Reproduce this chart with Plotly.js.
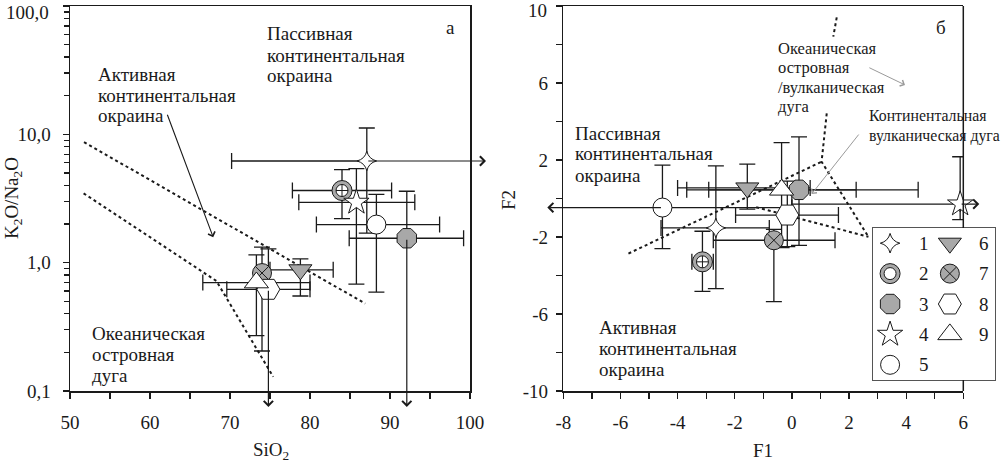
<!DOCTYPE html>
<html><head><meta charset="utf-8">
<script src="https://cdn.plot.ly/plotly-3.0.1.min.js"></script>
<style>html,body{margin:0;padding:0;background:#fff}#chart{width:1003px;height:463px}</style>
</head><body><div id="chart"></div>
<script>
// ---------------- DATA ----------------
const seriesIds = ['1','2','3','4','5','6','7','8','9'];

// Panel а: SiO2 vs K2O/Na2O  (Infinity / -Infinity = open range, drawn as arrow; null = no bar)
const sio2   = [87.1, 84.0, 92.1, 85.8, 88.3, 78.8, 74.0, 74.8, 73.3];
const sio2Lo = [70.2, 77.8, 84.9, 78.6, 80.8, 75.0, null, 69.6, 66.6];
const sio2Hi = [Infinity, 90.2, 99.2, 93.1, 96.2, 82.9, null, 80.0, 80.0];
const kna    = [6.2, 3.65, 1.55, 2.95, 1.98, 0.88, 0.83, 0.62, 0.70];
const knaLo  = [1.7, 2.2, -Infinity, 0.68, 0.59, 0.55, 0.205, -Infinity, 0.27];
const knaHi  = [11.2, 5.3, 3.6, 5.4, 3.4, 1.07, 1.32, 1.28, 1.15];

// Panel а discriminant boundaries
const bndA1x = [51.75, 86.9];        const bndA1y = [8.7, 0.48];
const bndA2x = [51.7, 68.3, 75.4];   const bndA2y = [3.47, 0.72, 0.129];

// Panel б: F1 vs F2
const f1   = [-2.66, -3.13, 0.25, 5.89, -4.53, -1.56, -0.63, -0.16, -0.36];
const f1Lo = [-4.58, -3.5, -2.91, 0.0, -Infinity, -4.0, -2.75, -1.97, -3.68];
const f1Hi = [-0.79, -2.75, 4.42, Infinity, 0.0, 0.64, 1.51, 1.63, 2.25];
const f2   = [-1.53, -3.29, 0.45, -0.29, -0.47, 0.55, -2.17, -0.86, 0.45];
const f2Lo = [-4.68, -4.82, -2.43, -1.1, -2.6, -0.55, -5.36, -2.5, -2.55];
const f2Hi = [1.7, -1.7, 3.2, 2.17, 1.73, 1.79, -1.6, 0.9, 2.9];

// Panel б discriminant boundaries
const bndB1x = [1.57, 1.45];          const bndB1y = [9.41, 8.41];
const bndB2x = [1.22, 1.04, 2.68];    const bndB2y = [4.42, 1.91, -1.99];
const bndB3x = [-5.72, 1.04];         const bndB3y = [-2.86, 1.91];
const bndB4x = [-1.25, 2.68];         const bndB4y = [-0.45, -1.99];

// Tick labels
const xTicksA = [50, 60, 70, 80, 90, 100];
const yTicksA = [0.1, 1, 10, 100];
const yTickTextA = ['0,1', '1,0', '10,0', '100,0'];
const xTicksB = [-8, -6, -4, -2, 0, 2, 4, 6];
const yTicksB = [-10, -6, -2, 2, 6, 10];

// Region labels
const txtPassive = ['Пассивная', 'континентальная', 'окраина'];
const txtActive  = ['Активная', 'континентальная', 'окраина'];
const txtOceanA  = ['Океаническая', 'островная', 'дуга'];
const txtOceanB  = ['Океаническая', 'островная', '/вулканическая', 'дуга'];
const txtContArc = ['Континентальная', 'вулканическая дуга'];

// ---------------- STYLE ----------------
const W = 1003, H = 463;
const FONT = 'Liberation Serif, Times New Roman, serif';
const INK = '#1a1a1a';
const GRAY = '#a8a8a8';
const domA = {x0: 70, x1: 470, y0: 6, y1: 391};
const domB = {x0: 563.3, x1: 963.3, y0: 6, y1: 391};
const domL = {x0: 873, x1: 995, y0: 228, y1: 380};
const px = v => v / W, py = v => 1 - v / H;

const styles = [
  {symbol: 'star-diamond', size: 14, color: '#fff'},
  {symbol: 'circle', size: 20, color: GRAY, inner: 'circle-cross', innerLegend: 'circle', innerSize: 12},
  {symbol: 'octagon', size: 21, color: GRAY},
  {symbol: 'star', size: 19, color: '#fff'},
  {symbol: 'circle', size: 19, color: '#fff'},
  {symbol: 'triangle-down', size: 20, color: GRAY},
  {symbol: 'circle-x', size: 19, color: GRAY},
  {symbol: 'hexagon2', size: 23, color: '#fff'},
  {symbol: 'triangle-up', size: 21, color: '#fff'}
];

const errTraces = [], markTraces = [], annotations = [], shapes = [];

function errArr(val, lo, hi) {
  const plus = [], minus = [];
  val.forEach((v, i) => {
    plus.push(hi[i] === null || !isFinite(hi[i]) ? 0 : hi[i] - v);
    minus.push(lo[i] === null || !isFinite(lo[i]) ? 0 : v - lo[i]);
  });
  return {plus, minus};
}

function panel(xs, xLo, xHi, ys, yLo, yHi, xa, ya) {
  const ex = errArr(xs, xLo, xHi), ey = errArr(ys, yLo, yHi);
  xs.forEach((x, i) => {
    errTraces.push({
      type: 'scatter', mode: 'markers', x: [x], y: [ys[i]], xaxis: xa, yaxis: ya,
      marker: {size: 4, opacity: 0}, showlegend: false, hoverinfo: 'skip',
      error_x: {type: 'data', symmetric: false, array: [ex.plus[i]], arrayminus: [ex.minus[i]],
        color: INK, thickness: 1.3, width: 8},
      error_y: {type: 'data', symmetric: false, array: [ey.plus[i]], arrayminus: [ey.minus[i]],
        color: INK, thickness: 1.3, width: 8}
    });
    const s = styles[i];
    markTraces.push({
      type: 'scatter', mode: 'markers', x: [x], y: [ys[i]], xaxis: xa, yaxis: ya,
      marker: {symbol: s.symbol, size: s.size, color: s.color, line: {color: INK, width: 1}},
      showlegend: false, hoverinfo: 'skip', cliponaxis: false
    });
    if (s.inner) markTraces.push({
      type: 'scatter', mode: 'markers', x: [x], y: [ys[i]], xaxis: xa, yaxis: ya,
      marker: {symbol: s.inner, size: s.innerSize, color: '#fff', line: {color: INK, width: 1}},
      showlegend: false, hoverinfo: 'skip', cliponaxis: false
    });
  });
}
panel(sio2, sio2Lo, sio2Hi, kna, knaLo, knaHi, 'x', 'y');
panel(f1, f1Lo, f1Hi, f2, f2Lo, f2Hi, 'x2', 'y2');

// Open-ended ranges as arrows beyond the axis
const OVER = 16; // px
function openArrows(xs, xLo, xHi, ys, yLo, yHi, xa, ya, xr, yr, dom, ylog) {
  const xpu = (dom.x1 - dom.x0) / (xr[1] - xr[0]);
  const ypu = (dom.y1 - dom.y0) / (yr[1] - yr[0]);
  const yv = v => ylog ? Math.log10(v) : v;
  const base = {xref: xa, yref: ya, axref: xa, ayref: ya, text: '', showarrow: true,
    arrowhead: 4, arrowsize: 1.5, arrowwidth: 1.2, arrowcolor: INK, standoff: 0, startstandoff: 0};
  xs.forEach((x, i) => {
    const y = yv(ys[i]);
    if (xHi[i] === Infinity) annotations.push(Object.assign({}, base, {ax: x, ay: y, x: xr[1] + OVER / xpu, y: y}));
    if (xLo[i] === -Infinity) annotations.push(Object.assign({}, base, {ax: x, ay: y, x: xr[0] - OVER / xpu, y: y}));
    if (yHi[i] === Infinity) annotations.push(Object.assign({}, base, {ax: x, ay: y, x: x, y: yr[1] + OVER / ypu}));
    if (yLo[i] === -Infinity) annotations.push(Object.assign({}, base, {ax: x, ay: y, x: x, y: yr[0] - OVER / ypu}));
  });
}
openArrows(sio2, sio2Lo, sio2Hi, kna, knaLo, knaHi, 'x', 'y', [50, 100], [-1, 2], domA, true);
openArrows(f1, f1Lo, f1Hi, f2, f2Lo, f2Hi, 'x2', 'y2', [-8, 6], [-10, 10], domB, false);

// Boundaries
const dotted = {color: INK, width: 2, dash: 'dot'};
const bnd = (x, y, xa, ya) => ({type: 'scatter', mode: 'lines', x, y, xaxis: xa, yaxis: ya,
  line: dotted, showlegend: false, hoverinfo: 'skip'});
const bndTraces = [
  bnd(bndA1x, bndA1y, 'x', 'y'), bnd(bndA2x, bndA2y, 'x', 'y'),
  bnd(bndB1x, bndB1y, 'x2', 'y2'), bnd(bndB2x, bndB2y, 'x2', 'y2'),
  bnd(bndB3x, bndB3y, 'x2', 'y2'), bnd(bndB4x, bndB4y, 'x2', 'y2')
];

// Text blocks (pixel placement)
function textBlock(lines, left, top, step, size, anchor) {
  lines.forEach((t, k) => annotations.push({xref: 'paper', yref: 'paper', x: px(left), y: py(top + k * step),
    xanchor: anchor || 'left', yanchor: 'middle', text: t, showarrow: false, font: {family: FONT, size: size, color: INK}}));
}
textBlock(['а'], 444, 27, 0, 19);
textBlock(txtPassive, 265, 34, 21, 19);
textBlock(txtActive, 96, 74, 21, 19);
textBlock(txtOceanA, 90, 333, 21, 19);
textBlock(['б'], 934, 27, 0, 19);
textBlock(txtOceanB, 776, 49, 19, 16.5);
textBlock(txtContArc, 867, 115, 21, 15.8);
textBlock(txtPassive, 573, 133, 21, 19);
textBlock(txtActive, 597, 327, 21, 19);

// Top tick labels sit slightly below the top tick (as in the original) so they are not cut off
textBlock([yTickTextA[yTickTextA.length - 1]], 51, 12, 0, 19, 'right');
textBlock([String(yTicksB[yTicksB.length - 1])], 549, 10, 0, 19, 'right');

// Pointer arrows
annotations.push({xref: 'x', yref: 'y', axref: 'x', ayref: 'y', x: 67.9, y: 0.198, ax: 62.1, ay: 1.164,
  text: '', showarrow: true, arrowhead: 4, arrowsize: 1.3, arrowwidth: 1.1, arrowcolor: INK});
annotations.push({xref: 'x2', yref: 'y2', axref: 'x2', ayref: 'y2', x: 3.96, y: 5.9, ax: 2.66, ay: 6.83,
  text: '', showarrow: true, arrowhead: 4, arrowsize: 1.3, arrowwidth: 1, arrowcolor: '#9a9a9a'});
annotations.push({xref: 'x2', yref: 'y2', axref: 'x2', ayref: 'y2', x: 0.69, y: 0.23, ax: 2.38, ay: 3.4,
  text: '', showarrow: true, arrowhead: 4, arrowsize: 1.3, arrowwidth: 1, arrowcolor: '#9a9a9a'});

// Axis titles
annotations.push({xref: 'paper', yref: 'paper', x: px(271), y: py(451), text: 'SiO<sub>2</sub>', showarrow: false,
  xanchor: 'center', yanchor: 'middle', font: {family: FONT, size: 19, color: INK}});
annotations.push({xref: 'paper', yref: 'paper', x: px(13), y: py(198), text: 'K<sub>2</sub>O/Na<sub>2</sub>O', showarrow: false,
  textangle: -90, xanchor: 'center', yanchor: 'middle', font: {family: FONT, size: 19, color: INK}});
annotations.push({xref: 'paper', yref: 'paper', x: px(763), y: py(450), text: 'F1', showarrow: false,
  xanchor: 'center', yanchor: 'middle', font: {family: FONT, size: 19, color: INK}});
annotations.push({xref: 'paper', yref: 'paper', x: px(508), y: py(200), text: 'F2', showarrow: false,
  textangle: -90, xanchor: 'center', yanchor: 'middle', font: {family: FONT, size: 19, color: INK}});

// Legend (own small axes)
const legX = [0.14, 0.63], legY = [0.9, 0.7, 0.5, 0.3, 0.1], legNumX = [0.42, 0.91];
seriesIds.forEach((id, i) => {
  const c = Math.floor(i / 5), r = i % 5, s = styles[i];
  markTraces.push({type: 'scatter', mode: 'markers', x: [legX[c]], y: [legY[r]], xaxis: 'x3', yaxis: 'y3',
    marker: {symbol: s.symbol, size: s.size, color: s.color, line: {color: INK, width: 1}},
    showlegend: false, hoverinfo: 'skip'});
  if (s.inner) markTraces.push({type: 'scatter', mode: 'markers', x: [legX[c]], y: [legY[r]], xaxis: 'x3', yaxis: 'y3',
    marker: {symbol: s.innerLegend, size: s.innerSize, color: '#fff', line: {color: INK, width: 1}},
    showlegend: false, hoverinfo: 'skip'});
  annotations.push({xref: 'x3', yref: 'y3', x: legNumX[c], y: legY[r], text: id, showarrow: false,
    xanchor: 'center', yanchor: 'middle', font: {family: FONT, size: 19, color: INK}});
});

// Right border of panel б, interrupted by the legend box
shapes.push({type: 'line', xref: 'paper', yref: 'paper', x0: px(domB.x1), x1: px(domB.x1), y0: py(domB.y0), y1: py(domL.y0),
  line: {color: INK, width: 1.5}});
shapes.push({type: 'line', xref: 'paper', yref: 'paper', x0: px(domB.x1), x1: px(domB.x1), y0: py(domL.y1), y1: py(domB.y1),
  line: {color: INK, width: 1.5}});

const tickFont = {family: FONT, size: 19, color: INK};
const axBase = {showgrid: false, zeroline: false, showline: true, linecolor: INK, linewidth: 1.5,
  ticks: 'outside', ticklen: 6, tickwidth: 1.3, tickcolor: INK, tickfont: tickFont, fixedrange: true,
  ticklabeloverflow: 'allow'};
const range = (a, b, s) => { const r = []; for (let v = a; v <= b + 1e-9; v += s) r.push(+v.toFixed(6)); return r; };
const logMinor = [];
[0.1, 1, 10].forEach(d => { for (let k = 2; k <= 9; k++) logMinor.push(+(k * d).toFixed(6)); });
// top labels are drawn above as text blocks
const yTickTextAAxis = yTickTextA.map((t, i) => i === yTickTextA.length - 1 ? '' : t);
const yTickTextBAxis = yTicksB.map((v, i) => i === yTicksB.length - 1 ? '' : String(v));

const layout = {
  width: W, height: H, margin: {l: 0, r: 0, t: 0, b: 0},
  paper_bgcolor: '#fff', plot_bgcolor: '#fff', showlegend: false,
  font: {family: FONT, color: INK},
  xaxis: Object.assign({}, axBase, {domain: [px(domA.x0), px(domA.x1)], anchor: 'y', range: [50, 100],
    tickmode: 'array', tickvals: xTicksA, ticktext: xTicksA.map(String), mirror: true, ticklabelstandoff: 8,
    minor: {tickmode: 'array', tickvals: range(55, 95, 10), ticks: 'outside', ticklen: 6, tickwidth: 1.3, tickcolor: INK}}),
  yaxis: Object.assign({}, axBase, {domain: [py(domA.y1), py(domA.y0)], anchor: 'x', type: 'log', range: [-1, 2],
    tickmode: 'array', tickvals: yTicksA, ticktext: yTickTextAAxis, mirror: true, ticklabelstandoff: 8,
    minor: {tickmode: 'array', tickvals: logMinor, ticks: 'outside', ticklen: 5, tickwidth: 1.3, tickcolor: INK}}),
  xaxis2: Object.assign({}, axBase, {domain: [px(domB.x0), px(domB.x1)], anchor: 'y2', range: [-8, 6],
    tickmode: 'array', tickvals: xTicksB, ticktext: xTicksB.map(String), mirror: true, ticklabelstandoff: 8,
    minor: {tickmode: 'array', tickvals: range(-7, 5, 2), ticks: 'outside', ticklen: 6, tickwidth: 1.3, tickcolor: INK}}),
  yaxis2: Object.assign({}, axBase, {domain: [py(domB.y1), py(domB.y0)], anchor: 'x2', range: [-10, 10],
    tickmode: 'array', tickvals: yTicksB, ticktext: yTickTextBAxis, mirror: false, ticklabelstandoff: 4,
    minor: {tickmode: 'array', tickvals: range(-8, 8, 4), ticks: 'outside', ticklen: 6, tickwidth: 1.3, tickcolor: INK}}),
  xaxis3: {domain: [px(domL.x0), px(domL.x1)], anchor: 'y3', range: [0, 1], showgrid: false, zeroline: false,
    showticklabels: false, ticks: '', showline: true, mirror: true, linecolor: '#555', linewidth: 1.2, fixedrange: true},
  yaxis3: {domain: [py(domL.y1), py(domL.y0)], anchor: 'x3', range: [0, 1], showgrid: false, zeroline: false,
    showticklabels: false, ticks: '', showline: true, mirror: true, linecolor: '#555', linewidth: 1.2, fixedrange: true},
  annotations, shapes
};

Plotly.newPlot('chart', bndTraces.concat(errTraces, markTraces), layout, {staticPlot: true, displayModeBar: false});
</script></body></html>
